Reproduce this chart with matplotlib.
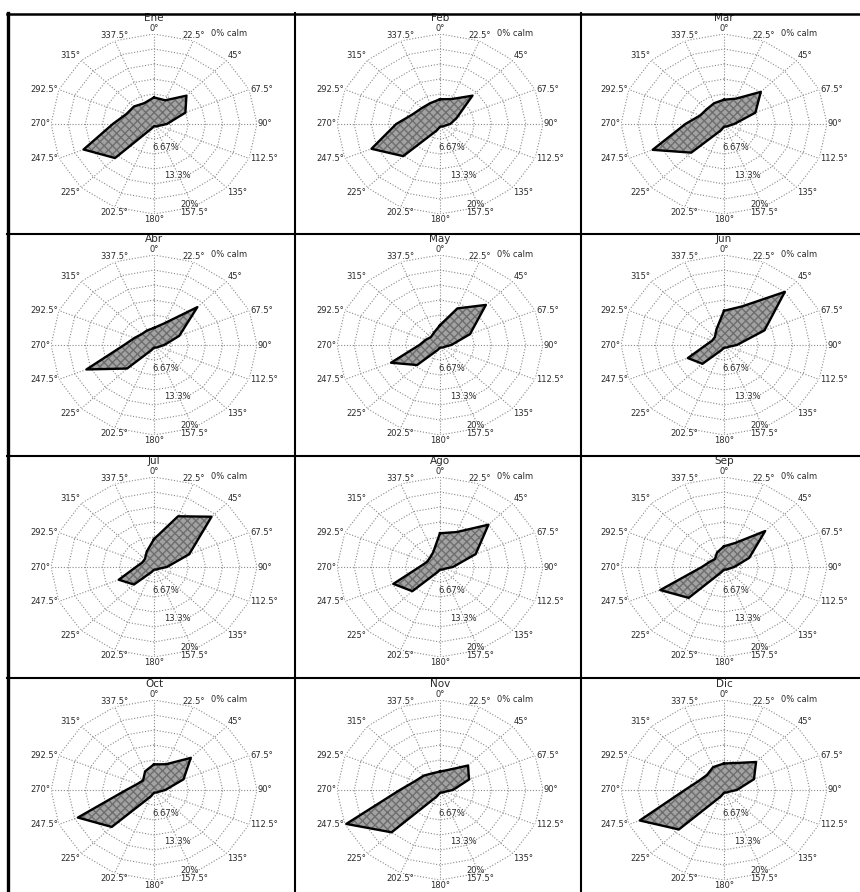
import numpy as np
import matplotlib
matplotlib.use("Agg")
import matplotlib.pyplot as plt
from matplotlib.lines import Line2D

# Wind directions (degrees, clockwise from north) and their labels
directions = [0, 22.5, 45, 67.5, 90, 112.5, 135, 157.5,
              180, 202.5, 225, 247.5, 270, 292.5, 315, 337.5]
direction_labels = ["0°", "22.5°", "45°", "67.5°", "90°", "112.5°", "135°", "157.5°",
                    "180°", "202.5°", "225°", "247.5°", "270°", "292.5°", "315°", "337.5°"]

months = ["Ene", "Feb", "Mar", "Abr", "May", "Jun",
          "Jul", "Ago", "Sep", "Oct", "Nov", "Dic"]

# Frequency (%) of wind from each direction, per month
ene = [5.9, 5.7, 8.9, 6.6, 2.5, 1.0, 0.8, 0.5, 0.5, 1.0, 10.7, 14.8, 8.0, 5.8, 5.5, 5.0]
feb = [5.5, 6.0, 8.9, 3.5, 2.0, 1.0, 0.8, 0.6, 0.6, 1.5, 10.1, 14.4, 8.5, 5.7, 5.0, 5.0]
mar = [5.4, 6.1, 10.1, 6.6, 2.0, 1.0, 0.8, 0.6, 0.6, 1.5, 9.0, 15.0, 7.5, 5.0, 4.7, 5.0]
abr = [3.8, 5.2, 11.9, 5.3, 2.0, 1.0, 0.8, 0.6, 0.6, 1.2, 7.4, 14.2, 5.8, 4.1, 3.4, 3.5]
may = [4.4, 8.8, 12.6, 6.3, 2.2, 1.0, 0.8, 0.6, 0.6, 1.2, 6.3, 10.3, 4.0, 3.0, 2.5, 3.0]
jun = [7.6, 9.3, 16.7, 8.5, 2.5, 1.0, 0.8, 0.6, 0.6, 1.2, 5.9, 7.6, 3.5, 2.5, 2.5, 3.8]
jul = [6.2, 12.2, 15.8, 7.4, 2.5, 1.0, 0.8, 0.6, 0.6, 1.2, 5.5, 7.4, 3.5, 2.5, 2.5, 3.7]
ago = [7.5, 8.4, 13.3, 7.5, 2.5, 1.0, 0.8, 0.6, 0.6, 1.2, 7.6, 9.8, 4.0, 2.8, 2.8, 3.5]
sep = [4.6, 5.8, 11.3, 5.3, 2.0, 1.0, 0.8, 0.6, 0.6, 1.2, 9.7, 13.4, 4.3, 3.0, 2.5, 3.5]
octu = [5.7, 6.2, 10.1, 6.2, 2.2, 1.0, 0.8, 0.6, 0.6, 1.5, 11.6, 16.0, 5.4, 3.5, 3.0, 4.5]
nov = [4.1, 4.9, 7.7, 6.1, 2.5, 1.0, 0.8, 0.6, 0.6, 1.5, 13.3, 19.7, 7.8, 5.2, 4.5, 4.0]
dic = [5.9, 6.5, 8.8, 6.3, 2.5, 1.0, 0.8, 0.6, 0.6, 1.5, 12.4, 17.7, 7.6, 5.3, 4.7, 5.5]
series = [ene, feb, mar, abr, may, jun, jul, ago, sep, octu, nov, dic]

ring_values = [3.333, 6.667, 10.0, 13.333, 16.667, 20.0]
ring_labels = ["", "6.67%", "", "13.3%", "", "20%"]
calm_label = "0% calm"

W, H = 860, 892
fig = plt.figure(figsize=(W / 100, H / 100), dpi=100)
fig.patch.set_facecolor("white")

col_centers = [154, 440, 724]
row_centers = [124, 345, 567, 790]
rx, ry = 103, 90

grid_color = "#8a8a8a"
grid_ls = (0, (1, 1.6))
text_color = "#2a2a2a"

theta = np.deg2rad(directions + [directions[0]])

for i, (name, values) in enumerate(zip(months, series)):
    row, col = divmod(i, 3)
    cx, cy = col_centers[col], row_centers[row]
    rect = [(cx - rx) / W, 1 - (cy + ry) / H, 2 * rx / W, 2 * ry / H]
    ax = fig.add_axes(rect, projection="polar")
    ax.set_aspect("auto")
    ax.set_theta_zero_location("N")
    ax.set_theta_direction(-1)
    ax.set_facecolor("white")

    vals = values + [values[0]]

    # polygonal rings of the web
    for rv in ring_values:
        ax.plot(theta, [rv] * len(theta), color=grid_color, lw=0.8, ls=grid_ls, zorder=1)

    ax.fill(theta, vals, facecolor="#a2a2a2", edgecolor="none", zorder=3)
    ax.fill(theta, vals, facecolor="none", edgecolor="#6e6e6e", hatch="xxxx",
            linewidth=0, zorder=3)
    ax.plot(theta, vals, color="black", lw=1.7, zorder=4)

    ax.set_thetagrids(directions, direction_labels, fontsize=6, color=text_color)
    ax.set_rgrids(ring_values, ring_labels, angle=160, fontsize=6, color=text_color)
    ax.set_ylim(0, 20)
    ax.yaxis.grid(False)
    ax.xaxis.grid(True, color=grid_color, lw=0.8, ls=grid_ls)
    ax.spines["polar"].set_visible(False)
    # direction labels sit just outside the rim, anchored by their inner edge
    ax.tick_params(axis="x", size=0, pad=-6.3)
    for tick, d in zip(ax.xaxis.get_major_ticks(), directions):
        s, c = np.sin(np.deg2rad(d)), np.cos(np.deg2rad(d))
        tick.label1.set_horizontalalignment("left" if s > 0.5 else ("right" if s < -0.5 else "center"))
        tick.label1.set_verticalalignment("bottom" if c > 0.5 else ("top" if c < -0.5 else "center"))
    for tick in ax.yaxis.get_major_ticks():
        tick.label1.set_horizontalalignment("center")
        tick.label1.set_verticalalignment("bottom")

    ax.text(0.5, 1.087, name, transform=ax.transAxes, ha="center", va="center",
            fontsize=7.5, color=text_color)
    ax.annotate(calm_label, xy=(np.deg2rad(22.5), 20), xytext=(13, 5),
                textcoords="offset points", fontsize=6, ha="left", va="center",
                color=text_color, annotation_clip=False)

# table borders
def hline(y, x0, x1, lw):
    fig.add_artist(Line2D([x0 / W, x1 / W], [1 - y / H, 1 - y / H], color="black", lw=lw))

def vline(x, y0, y1, lw):
    fig.add_artist(Line2D([x / W, x / W], [1 - y0 / H, 1 - y1 / H], color="black", lw=lw))

hline(14, 7, W, 1.8)
for y in (234, 456, 678):
    hline(y, 7, W, 1.5)
vline(8, 13, H, 2.4)
vline(295, 13, H, 1.5)
vline(581, 13, H, 1.5)

fig.savefig("out.png", dpi=100, facecolor="white")
